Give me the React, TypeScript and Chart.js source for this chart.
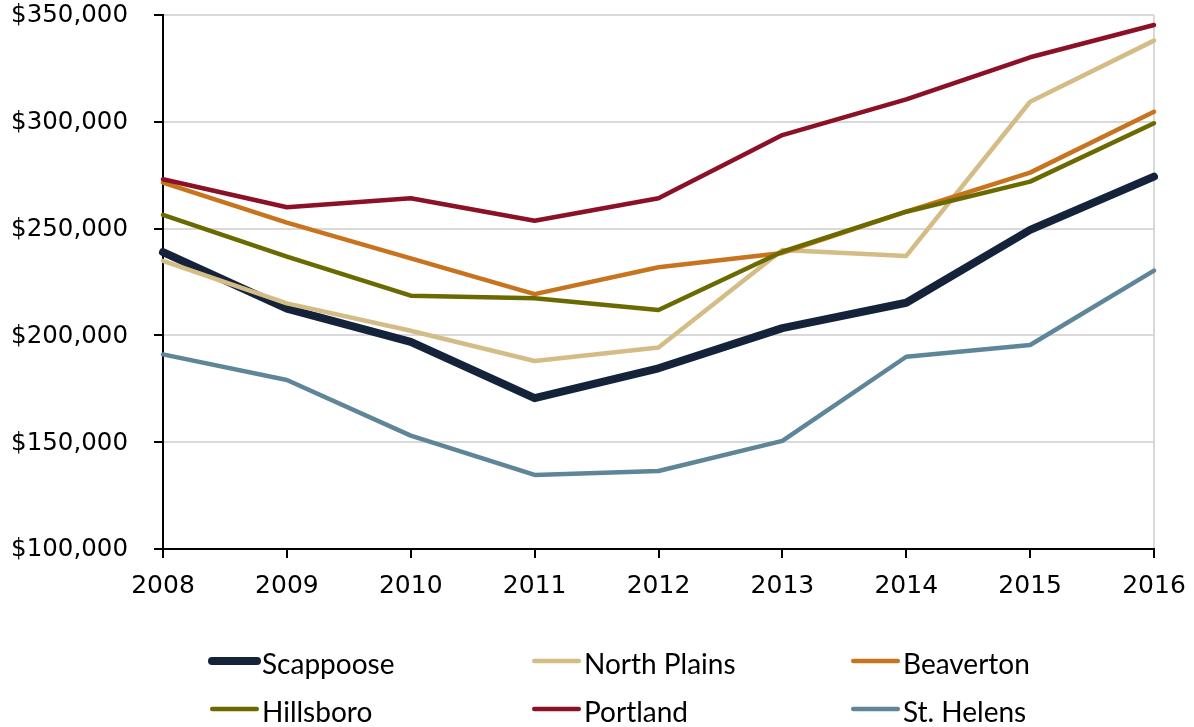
import React, { useEffect, useRef } from "react";
import { Chart, registerables } from "chart.js";

Chart.register(...registerables);

// Years on the horizontal axis
const years = ["2008", "2009", "2010", "2011", "2012", "2013", "2014", "2015", "2016"];

// Median home values per city
const scappoose = [239000, 212500, 197000, 170600, 184600, 203400, 215300, 249400, 274300];
const northPlains = [234900, 215000, 202200, 188000, 194300, 240000, 237200, 309400, 338000];
const beaverton = [271500, 252800, 236100, 219300, 231900, 238600, 257900, 276200, 304700];
const hillsboro = [256400, 236900, 218600, 217400, 211900, 239200, 257900, 272000, 299300];
const portland = [273100, 260000, 264200, 253700, 264200, 293800, 310500, 330200, 345300];
const stHelens = [191100, 179100, 153100, 134700, 136500, 150600, 190000, 195500, 230300];

// Value axis range and step
const yMin = 100000;
const yMax = 350000;
const yStep = 50000;

const TICK_FONT = "'DejaVu Sans', sans-serif";
const LEGEND_FONT = "Lato, sans-serif";

type SeriesDef = { label: string; data: number[]; color: string; width: number };

const series: SeriesDef[] = [
  { label: "Scappoose", data: scappoose, color: "#14233A", width: 8 },
  { label: "North Plains", data: northPlains, color: "#D4BC86", width: 4.5 },
  { label: "Beaverton", data: beaverton, color: "#C8731E", width: 4.5 },
  { label: "Hillsboro", data: hillsboro, color: "#6B6A00", width: 4.5 },
  { label: "Portland", data: portland, color: "#8C1026", width: 4.5 },
  { label: "St. Helens", data: stHelens, color: "#5F8698", width: 4.5 },
];

// Legend grid: three columns, two rows below the plot
const legendCols = [208, 530, 849];
const legendRows = [661, 709];

const legendPlugin = {
  id: "gridLegend",
  afterDraw(chart: Chart) {
    const ctx = chart.ctx;
    ctx.save();
    series.forEach((s, i) => {
      const col = i % 3;
      const row = Math.floor(i / 3);
      const x = legendCols[col];
      const y = legendRows[row];
      ctx.beginPath();
      ctx.strokeStyle = s.color;
      ctx.lineWidth = s.width;
      ctx.lineCap = "round";
      const inset = s.width / 2 + (s.width < 6 ? 2 : 0);
      ctx.moveTo(x + inset, y);
      ctx.lineTo(x + 53 - inset, y);
      ctx.stroke();
      ctx.fillStyle = "#000";
      ctx.font = `28px ${LEGEND_FONT}`;
      ctx.textBaseline = "alphabetic";
      ctx.textAlign = "left";
      ctx.fillText(s.label, x + 54, y + 12.5);
    });
    ctx.restore();
  },
};

export default function App() {
  const canvasRef = useRef<HTMLCanvasElement | null>(null);

  useEffect(() => {
    if (!canvasRef.current) return;
    const n = series.length;
    const chart = new Chart(canvasRef.current, {
      type: "line",
      data: {
        labels: years,
        datasets: series.map((s, i) => ({
          label: s.label,
          data: s.data,
          borderColor: s.color,
          backgroundColor: s.color,
          borderWidth: s.width,
          pointRadius: 0,
          tension: 0,
          borderCapStyle: "round" as const,
          borderJoinStyle: "round" as const,
          order: n - i,
          clip: false as any,
        })),
      },
      options: {
        responsive: false,
        animation: false,
        devicePixelRatio: 1,
        layout: { padding: { top: 15, right: 40, left: 0, bottom: 0 } },
        plugins: {
          legend: { display: false },
          tooltip: { enabled: false },
        },
        scales: {
          x: {
            afterFit(scale: any) {
              scale.height = 727 - 549;
              scale.paddingLeft = 0;
              scale.paddingRight = 0;
            },
            grid: {
              display: true,
              color: (c: any) => (c.index === years.length - 1 ? "#D9D9D9" : "rgba(0,0,0,0)"),
              lineWidth: 2,
              drawTicks: true,
              tickLength: 9,
              tickColor: "#000",
              tickWidth: 2,
            },
            border: { display: true, color: "#000", width: 2 },
            ticks: {
              color: "#000",
              font: { family: TICK_FONT, size: 25 },
              padding: 13,
              maxRotation: 0,
              autoSkip: false,
            },
          },
          y: {
            min: yMin,
            max: yMax,
            afterFit(scale: any) {
              scale.width = 163;
              scale.paddingTop = 0;
              scale.paddingBottom = 0;
            },
            grid: {
              color: "#D9D9D9",
              lineWidth: 2,
              drawTicks: true,
              tickLength: 9,
              tickColor: "#000",
              tickWidth: 2,
            },
            border: { display: true, color: "#000", width: 2 },
            ticks: {
              stepSize: yStep,
              color: "#000",
              font: { family: TICK_FONT, size: 24.5 },
              padding: 26,
              labelOffset: 1,
              callback: (v: any) => "$" + Number(v).toLocaleString("en-US"),
            },
          },
        },
      },
      plugins: [legendPlugin],
    });
    return () => chart.destroy();
  }, []);

  return (
    <div style={{ position: "absolute", left: 0, top: 0, width: 1194, height: 727, background: "#fff" }}>
      <canvas ref={canvasRef} width={1194} height={727} style={{ display: "block" }} />
    </div>
  );
}
